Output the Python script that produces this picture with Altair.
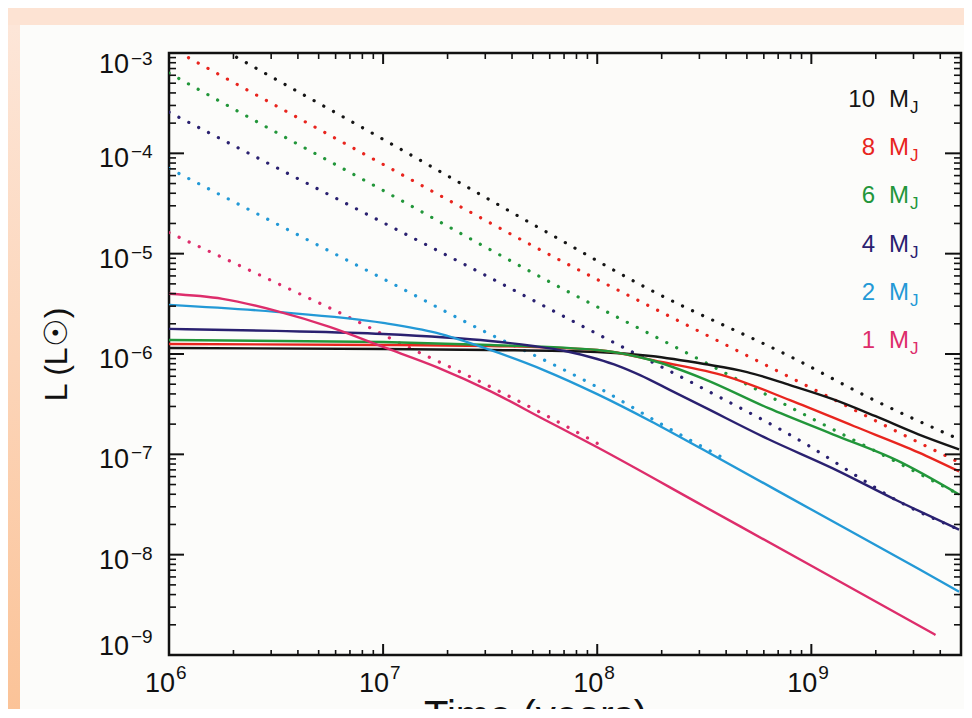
import altair as alt
import pandas as pd

# ---------------- data (log10 values) ----------------
masses = ["10", "8", "6", "4", "2", "1"]
colors = ["#151515", "#e8251e", "#22963a", "#2a2170", "#2399d6", "#dd2d6b"]

# solid curves: log10(time / yr), log10(L / Lsun)
solid10_logt = [6.0, 7.0, 7.5, 8.0, 8.25, 8.5, 8.7, 8.9, 9.1, 9.3, 9.5, 9.69]
solid10_logL = [-5.94, -5.95, -5.96, -5.98, -6.02, -6.10, -6.18, -6.31, -6.45, -6.62, -6.80, -6.95]
solid8_logt = [6.0, 7.0, 7.5, 8.0, 8.3, 8.6, 8.9, 9.2, 9.5, 9.69]
solid8_logL = [-5.90, -5.91, -5.92, -5.96, -6.08, -6.22, -6.46, -6.72, -6.98, -7.17]
solid6_logt = [6.0, 7.0, 7.5, 8.0, 8.25, 8.5, 8.8, 9.1, 9.4, 9.69]
solid6_logL = [-5.86, -5.88, -5.91, -5.96, -6.06, -6.25, -6.54, -6.80, -7.06, -7.40]
solid4_logt = [6.0, 6.5, 7.0, 7.5, 7.7, 7.85, 8.0, 8.1, 8.2, 8.35, 8.5, 8.8, 9.1, 9.4, 9.69]
solid4_logL = [-5.75, -5.77, -5.80, -5.87, -5.92, -5.97, -6.05, -6.12, -6.21, -6.37, -6.53, -6.85, -7.14, -7.46, -7.75]
solid2_logt = [6.0, 6.5, 7.0, 7.25, 7.5, 7.75, 8.0, 8.25, 8.5, 9.0, 9.5, 9.69]
solid2_logL = [-5.51, -5.58, -5.69, -5.79, -5.96, -6.16, -6.40, -6.67, -6.96, -7.55, -8.14, -8.37]
solid1_logt = [6.0, 6.25, 6.5, 6.75, 7.0, 7.25, 7.5, 7.75, 8.0, 8.5, 9.0, 9.58]
solid1_logL = [-5.40, -5.45, -5.57, -5.73, -5.93, -6.13, -6.37, -6.65, -6.93, -7.52, -8.11, -8.80]

# dotted curves
dot10_logt = [6.0, 6.322, 7.0, 7.768, 8.229, 8.943, 9.256, 9.69]
dot10_logL = [-2.66, -3.05, -3.86, -4.79, -5.34, -6.07, -6.42, -6.85]
dot8_logt = [6.0, 7.0, 7.768, 8.5, 9.0, 9.5, 9.69]
dot8_logL = [-2.94, -4.11, -5.00, -5.80, -6.34, -6.88, -7.08]
dot6_logt = [6.0, 6.5, 7.0, 7.5, 7.768, 8.5, 9.0, 9.41, 9.69]
dot6_logL = [-3.20, -3.79, -4.37, -4.96, -5.27, -6.08, -6.64, -7.09, -7.40]
dot4_logt = [6.0, 6.5, 7.0, 7.5, 7.768, 8.0, 8.5, 9.0, 9.2, 9.4, 9.69]
dot4_logL = [-3.59, -4.14, -4.69, -5.24, -5.54, -5.80, -6.35, -6.93, -7.20, -7.46, -7.75]
dot2_logt = [6.0, 6.5, 7.0, 7.535, 7.684, 8.0, 8.3, 8.6]
dot2_logL = [-4.15, -4.70, -5.25, -5.84, -5.99, -6.33, -6.70, -7.05]
dot1_logt = [6.0, 6.5, 6.94, 7.03, 7.4, 7.75, 8.0]
dot1_logL = [-4.79, -5.29, -5.74, -5.84, -6.22, -6.60, -6.89]

# tick labels: base "10" plus a superscript exponent
tick_base = "10"
x_tick_values = [1e6, 1e7, 1e8, 1e9]
x_tick_exps = ["6", "7", "8", "9"]
y_tick_values = [1e-9, 1e-8, 1e-7, 1e-6, 1e-5, 1e-4, 1e-3]
y_tick_exps = ["\u22129", "\u22128", "\u22127", "\u22126", "\u22125", "\u22124", "\u22123"]
x_title = "Time (years)"
y_title = "L (L\u2609)"
unit_main = "M"
unit_sub = "J"

# ---------------- tables ----------------
solid_series = [
    ("10", solid10_logt, solid10_logL), ("8", solid8_logt, solid8_logL),
    ("6", solid6_logt, solid6_logL), ("4", solid4_logt, solid4_logL),
    ("2", solid2_logt, solid2_logL), ("1", solid1_logt, solid1_logL),
]
dot_series = [
    ("10", dot10_logt, dot10_logL), ("8", dot8_logt, dot8_logL),
    ("6", dot6_logt, dot6_logL), ("4", dot4_logt, dot4_logL),
    ("2", dot2_logt, dot2_logL), ("1", dot1_logt, dot1_logL),
]


def table(series):
    rows = []
    for m, lt, lL in series:
        for a, b in zip(lt, lL):
            rows.append({"mass": m, "t": 10 ** a, "L": 10 ** b})
    return pd.DataFrame(rows)


df_solid = table(solid_series)
df_dot = table(dot_series)

x_major = x_tick_values
x_minor = [k * 10 ** e for e in range(6, 10) for k in range(2, 10) if k * 10 ** e < 4.95e9]
y_major = y_tick_values
y_minor = [k * 10.0 ** e for e in range(-9, -3) for k in range(2, 10)]

# ---------------- layout ----------------
W, H = 792, 602
PAD = {"left": 161, "top": 45, "right": 3, "bottom": 54}
FONT = "Liberation Sans"
INK = "#111111"

xscale = alt.Scale(type="log", domain=[1e6, 5e9], nice=False)
yscale = alt.Scale(type="log", domain=[1e-9, 1e-3], nice=False)
cscale = alt.Scale(domain=masses, range=colors)

xaxis = alt.Axis(values=x_tick_values, labels=False, ticks=False, domain=False, grid=False,
                 title=x_title, titleFont=FONT, titleFontSize=40, titleFontWeight="normal",
                 titleColor=INK, titleX=366, titleY=41, titleBaseline="top", titleAlign="center")
yaxis = alt.Axis(values=y_tick_values, labels=False, ticks=False, domain=False, grid=False,
                 title=y_title, titleFont=FONT, titleFontSize=32, titleFontWeight="normal",
                 titleColor=INK, titleX=-113, titleY=H / 2, titleAngle=270,
                 titleBaseline="middle", titleAlign="center")

X = lambda f: alt.X(f, scale=xscale, axis=xaxis)
Y = lambda f: alt.Y(f, scale=yscale, axis=yaxis)

layers = []

# slide background strips
grad = alt.LinearGradient(gradient="linear",
                          stops=[alt.GradientStop(color="#fde7da", offset=0),
                                 alt.GradientStop(color="#fbc398", offset=1)],
                          x1=0, x2=0, y1=0, y2=1)
one = pd.DataFrame({"a": [0]})
layers.append(alt.Chart(one).mark_rect(color=grad).encode(
    x=alt.value(-PAD["left"]), x2=alt.value(-PAD["left"] + 12),
    y=alt.value(-PAD["top"]), y2=alt.value(H + PAD["bottom"])))
layers.append(alt.Chart(one).mark_rect(color="#fde3d3").encode(
    x=alt.value(-PAD["left"]), x2=alt.value(W + PAD["right"]),
    y=alt.value(-PAD["top"]), y2=alt.value(-PAD["top"] + 17)))

# dotted curves
layers.append(alt.Chart(df_dot).mark_line(strokeWidth=3.2, strokeDash=[0.1, 11], strokeCap="round",
                                          clip=True, interpolate="monotone").encode(
    x=X("t:Q"), y=Y("L:Q"),
    color=alt.Color("mass:N", scale=cscale, legend=None)))

# solid curves
layers.append(alt.Chart(df_solid).mark_line(strokeWidth=2.4, clip=True, interpolate="monotone").encode(
    x=X("t:Q"), y=Y("L:Q"),
    color=alt.Color("mass:N", scale=cscale, legend=None)))


# inward ticks on all four sides
def xticks(vals, y0, y1, sw):
    return alt.Chart(pd.DataFrame({"v": vals})).mark_rule(color=INK, strokeWidth=sw).encode(
        x=X("v:Q"), y=alt.value(y0), y2=alt.value(y1))


def yticks(vals, x0, x1, sw):
    return alt.Chart(pd.DataFrame({"v": vals})).mark_rule(color=INK, strokeWidth=sw).encode(
        y=Y("v:Q"), x=alt.value(x0), x2=alt.value(x1))


layers += [
    xticks(x_major, H, H - 11, 2.0), xticks(x_minor, H, H - 5, 1.6),
    xticks(x_major, 0, 11, 2.0), xticks(x_minor, 0, 6, 1.6),
    yticks(y_major, 0, 15, 2.0), yticks(y_minor, 0, 7, 1.6),
    yticks(y_major, W, W - 16, 2.0), yticks(y_minor, W, W - 7, 1.6),
]


# tick labels "10" + superscript exponent
def ylabels(vals, exps, dy_base, dy_exp):
    d = alt.Chart(pd.DataFrame({"v": vals, "e": exps}))
    return [
        d.mark_text(align="right", baseline="alphabetic", font=FONT, fontSize=27,
                    color=INK, dy=dy_base).encode(x=alt.value(-40), y=Y("v:Q"),
                                                  text=alt.value(tick_base)),
        d.mark_text(align="left", baseline="alphabetic", font=FONT, fontSize=19,
                    color=INK, dy=dy_exp).encode(x=alt.value(-38), y=Y("v:Q"), text="e:N"),
    ]


layers += ylabels(y_tick_values[1:-1], y_tick_exps[1:-1], 14, 5)   # interior decades
layers += ylabels(y_tick_values[-1:], y_tick_exps[-1:], 20, 12)     # top (kept inside)
layers += ylabels(y_tick_values[:1], y_tick_exps[:1], 0, -12)       # bottom (kept inside)

dx_lab = pd.DataFrame({"v": x_tick_values, "e": x_tick_exps})
layers.append(alt.Chart(dx_lab).mark_text(align="center", baseline="alphabetic", font=FONT,
                                          fontSize=27, color=INK, dx=-9).encode(
    x=X("v:Q"), y=alt.value(H + 37), text=alt.value(tick_base)))
layers.append(alt.Chart(dx_lab).mark_text(align="left", baseline="alphabetic", font=FONT,
                                          fontSize=19, color=INK, dx=7).encode(
    x=X("v:Q"), y=alt.value(H + 24), text="e:N"))

# legend text (coloured labels, upper right)
for i, (m, c) in enumerate(zip(masses, colors)):
    yb = 54 + 48.2 * i
    d = pd.DataFrame({"label": [m]})
    layers.append(alt.Chart(d).mark_text(align="right", baseline="alphabetic", font=FONT,
                                         fontSize=24, color=c).encode(
        x=alt.value(706), y=alt.value(yb), text="label:N"))
    layers.append(alt.Chart(d).mark_text(align="left", baseline="alphabetic", font=FONT,
                                         fontSize=24, color=c).encode(
        x=alt.value(720), y=alt.value(yb), text=alt.value(unit_main)))
    layers.append(alt.Chart(d).mark_text(align="left", baseline="alphabetic", font=FONT,
                                         fontSize=17, color=c).encode(
        x=alt.value(741), y=alt.value(yb + 6), text=alt.value(unit_sub)))

chart = alt.layer(*layers).properties(
    width=W, height=H,
    autosize=alt.AutoSizeParams(type="none"),
    padding=PAD,
    background="#fcfcfa",
).configure_view(stroke=INK, strokeWidth=2.5, fill="#fcfcfa")

chart.save("out.html", embed_options={"renderer": "svg", "actions": False})
